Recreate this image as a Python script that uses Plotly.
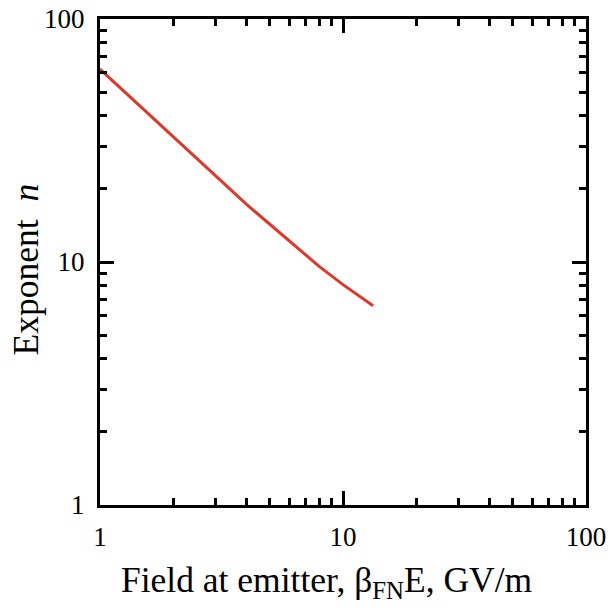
import plotly.graph_objects as go

field = [1, 1.5, 2, 3, 4, 5, 6, 7, 8, 10, 13.3]
exponent_n = [62.2, 42.8, 32.8, 22.5, 17.3, 14.3, 12.2, 10.7, 9.57, 8.07, 6.6]

major = [1, 10, 100]
major_text = ["1", "10", "100"]
minor_vals = [2, 3, 4, 5, 6, 7, 8, 9, 20, 30, 40, 50, 60, 70, 80, 90]

x_title = "Field at emitter, β<sub>FN</sub>E, GV/m"
y_title = "Exponent  <i>n</i>"

fig = go.Figure()
fig.add_trace(go.Scatter(x=field, y=exponent_n, mode="lines",
                         line=dict(color="#d83a2c", width=3),
                         showlegend=False))

tickfont = dict(family="Liberation Serif", size=27, color="black")
titlefont = dict(family="Liberation Serif", size=35.5, color="black")
axis_common = dict(
    type="log", showgrid=False, zeroline=False, automargin=False,
    showline=True, linecolor="black", linewidth=3, mirror="ticks",
    ticks="inside", ticklen=14, tickwidth=3, tickcolor="black",
    tickmode="array", tickvals=major, ticktext=major_text,
    minor=dict(ticks="inside", ticklen=7, tickwidth=3, tickcolor="black",
               showgrid=False, tickmode="array", tickvals=minor_vals),
    tickfont=tickfont, range=[0, 2],
)
fig.update_xaxes(ticklabelstandoff=6, **axis_common)
fig.update_yaxes(ticklabelstandoff=7, **axis_common)

fig.add_annotation(text=x_title, xref="paper", yref="paper", x=0.467, y=-0.158,
                   xanchor="center", yanchor="middle", showarrow=False, font=titlefont)
fig.add_annotation(text=y_title, xref="paper", yref="paper", x=-0.152, y=0.485,
                   xanchor="center", yanchor="middle", textangle=-90,
                   showarrow=False, font=titlefont)

fig.update_layout(width=610, height=615, plot_bgcolor="white", paper_bgcolor="white",
                  margin=dict(l=100, r=24, t=19, b=110), font=tickfont)
fig.write_html("out.html", config={"displayModeBar": False},
               post_script="document.body.style.margin='0';document.body.style.overflow='hidden';")
